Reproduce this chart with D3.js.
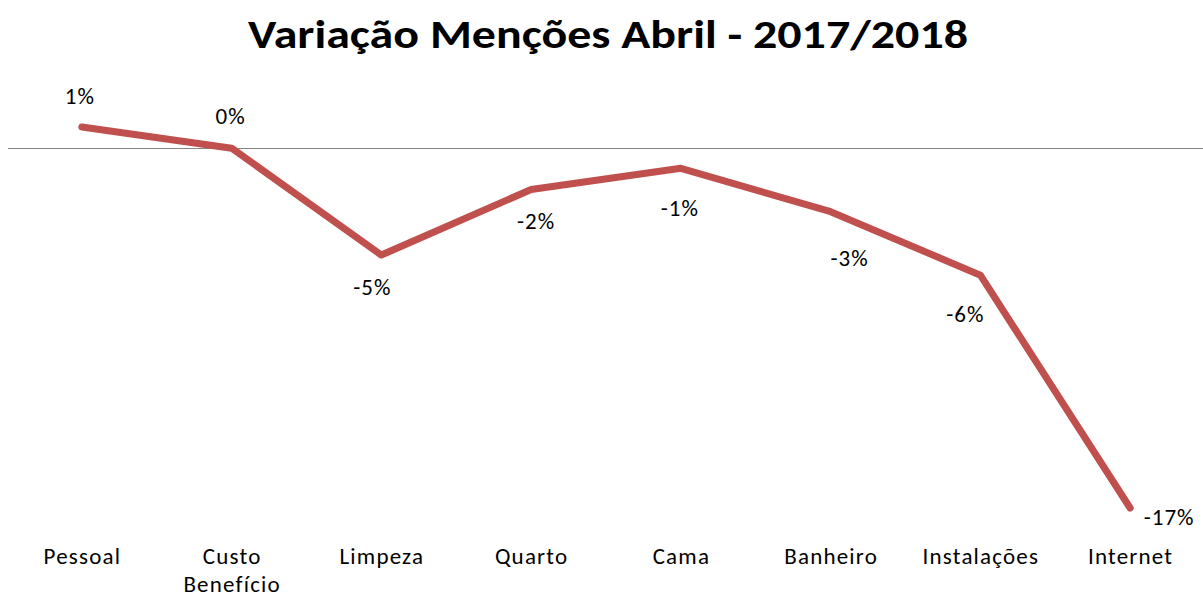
<!DOCTYPE html>
<html>
<head>
<meta charset="utf-8">
<script src="https://cdn.jsdelivr.net/npm/d3@7"></script>
<style>
    body { margin: 0; background: #fff; }
    svg { display: block; font-family: Carlito, Calibri, Lato, sans-serif; }
</style>
</head>
<body>
<svg id="chart" width="1203" height="598"></svg>
<script>
// Data
const categories = ["Pessoal", "Custo Benefício", "Limpeza", "Quarto", "Cama", "Banheiro", "Instalações", "Internet"];
const variation = [1.0, 0.0, -5.05, -1.95, -0.95, -3.0, -6.0, -17.0];
const valueLabels = ["1%", "0%", "-5%", "-2%", "-1%", "-3%", "-6%", "-17%"];

// label nudges (px) relative to each point, as placed in the original
const labelOffset = [[-2, -31], [-1, -32], [-9, 32], [5, 32], [-1, 40], [19, 46], [-15, 39], [39, 9]];

const width = 1203, height = 598;
const svg = d3.select("#chart");

////////// Scales //////////
const x = d3.scalePoint().domain(categories).range([7, 1205]).padding(0.5);
const y = d3.scaleLinear().domain([-17, 1]).range([508, 127]);

////////// Title //////////
svg.append("text")
    .attr("x", 608)
    .attr("y", 48)
    .attr("text-anchor", "middle")
    .attr("textLength", 720)
    .attr("lengthAdjust", "spacingAndGlyphs")
    .style("font-size", "40px")
    .style("font-weight", "bold")
    .style("fill", "#000")
    .text("Variação Menções Abril - 2017/2018");

////////// Zero line //////////
svg.append("line")
    .attr("x1", 8).attr("x2", width)
    .attr("y1", Math.round(y(0)) + 0.5).attr("y2", Math.round(y(0)) + 0.5)
    .attr("stroke", "#868686")
    .attr("stroke-width", 1);

////////// Category axis //////////
const axis = svg.append("g")
    .attr("transform", "translate(0,545)")
    .call(d3.axisBottom(x).tickSize(0).tickPadding(0));
axis.select(".domain").remove();
axis.selectAll(".tick text").each(function(d) {
    const t = d3.select(this);
    t.text(null)
        .attr("y", 0)
        .attr("dy", null)
        .style("font-size", "23px")
        .style("letter-spacing", "1.2px")
        .style("font-family", "Carlito, Calibri, Lato, sans-serif")
        .attr("fill", "#000");
    d.split(" ").forEach((w, i) => {
        t.append("tspan")
            .attr("x", 0)
            .attr("y", 19 + i * 28)
            .text(w);
    });
});

////////// Line //////////
const data = categories.map((c, i) => ({c: c, v: variation[i]}));
const line = d3.line()
    .x(d => x(d.c))
    .y(d => y(d.v));

svg.append("path")
    .datum(data)
    .attr("d", line)
    .attr("fill", "none")
    .attr("stroke", "#C0504D")
    .attr("stroke-width", 7)
    .attr("stroke-linejoin", "round")
    .attr("stroke-linecap", "round");

////////// Data labels //////////
svg.append("g")
    .selectAll("text")
    .data(data)
    .join("text")
    .attr("x", (d, i) => x(d.c) + labelOffset[i][0])
    .attr("y", (d, i) => y(d.v) + labelOffset[i][1])
    .attr("dy", "0.35em")
    .attr("text-anchor", "middle")
    .style("font-size", "23px")
    .style("letter-spacing", "1px")
    .style("fill", "#000")
    .text((d, i) => valueLabels[i]);
</script>
</body>
</html>
